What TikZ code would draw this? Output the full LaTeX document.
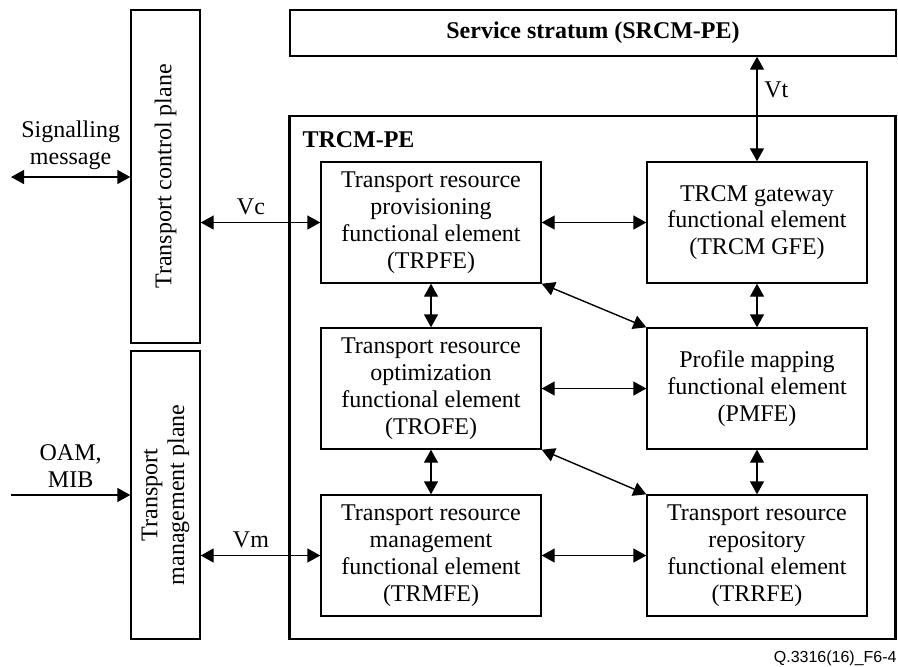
\documentclass[tikz,border=0pt]{standalone}
\usepackage{fontspec}
\setmainfont{Liberation Serif}
\newfontfamily\captionFont{Liberation Sans}
\usetikzlibrary{arrows.meta}
\newcommand{\elementFont}{\fontsize{12}{13.4}\selectfont}
\tikzstyle{diagram} = [x = 0.5pt, y = -0.5pt]
\tikzstyle{boxStyle} = [draw, line width = 0.7pt, inner sep = 0pt]
\tikzstyle{elementStyle} = [boxStyle, minimum width = 110pt, minimum height = 60.5pt, align = center, font = \elementFont]
\tikzstyle{planeStyle} = [boxStyle, minimum width = 34.5pt]
\tikzstyle{peStyle} = [draw, line width = 1.4pt, minimum width = 303pt, minimum height = 261.5pt]
\tikzstyle{labelText} = [font = \elementFont, align = center]
\tikzstyle{interfaceLink} = [line width = 0.7pt, {Triangle[length = 6.5pt, width = 7pt]}-{Triangle[length = 6.5pt, width = 7pt]}]
\tikzstyle{inputLink} = [line width = 0.7pt, -{Triangle[length = 6.5pt, width = 7pt]}]
\newcommand{\functionalElement}[4]{\node [elementStyle] (#1) at (#2, #3) {#4};}

\begin{document}
\begin{tikzpicture}[diagram]
        \useasboundingbox (0, 0) rectangle (898, 666);

        \node [boxStyle, minimum width = 303pt, minimum height = 23pt, font = \elementFont\bfseries] (serviceStratum) at (593, 33) {Service stratum (SRCM-PE)};
        \node [peStyle] (trcmPe) at (592.5, 377.5) {};
        \node [anchor = north west, inner sep = 0pt, font = \elementFont\bfseries] (trcmPeLabel) at ([shift = {(14, 17)}] trcmPe.north west) {TRCM-PE};

        \node [planeStyle, minimum height = 166.5pt] (controlPlane) at (165.5, 176.5) {};
        \node [labelText, rotate = 90] (controlPlaneText) at (controlPlane) {Transport control plane};
        \node [planeStyle, minimum height = 144pt] (managementPlane) at (165.5, 495) {};
        \node [labelText, rotate = 90] (managementPlaneText) at (managementPlane) {Transport\\management plane};

        \functionalElement{trpfe}{431}{222.5}{Transport resource\\provisioning\\functional element\\(TRPFE)}
        \functionalElement{trcmGfe}{757}{222.5}{TRCM gateway\\functional element\\(TRCM GFE)}
        \functionalElement{trofe}{431}{388.5}{Transport resource\\optimization\\functional element\\(TROFE)}
        \functionalElement{pmfe}{757}{388.5}{Profile mapping\\functional element\\(PMFE)}
        \functionalElement{trmfe}{431}{555.5}{Transport resource\\management\\functional element\\(TRMFE)}
        \functionalElement{trrfe}{757}{555.5}{Transport resource\\repository\\functional element\\(TRRFE)}

        \coordinate (signalEnd) at (11, 177);
        \coordinate (oamEnd) at (11, 495);
        \draw [interfaceLink] (signalEnd) -- (signalEnd -| controlPlane.west) node [labelText, midway, above] (signalLabel) {Signalling\\message};
        \draw [inputLink] (oamEnd) -- (managementPlane.west) node [labelText, midway, above] (oamLabel) {OAM,\\MIB};
        \draw [interfaceLink] (trpfe.west -| controlPlane.east) -- (trpfe.west) node [labelText, pos = .42, above] (vcLabel) {Vc};
        \draw [interfaceLink] (trmfe.west -| managementPlane.east) -- (trmfe.west) node [labelText, pos = .42, above] (vmLabel) {Vm};
        \draw [interfaceLink] (serviceStratum.south -| trcmGfe.north) -- (trcmGfe.north) node [labelText, pos = .32, right] (vtLabel) {Vt};

        \draw [interfaceLink] (trpfe) -- (trcmGfe);
        \draw [interfaceLink] (trofe) -- (pmfe);
        \draw [interfaceLink] (trmfe) -- (trrfe);
        \draw [interfaceLink] (trpfe) -- (trofe);
        \draw [interfaceLink] (trofe) -- (trmfe);
        \draw [interfaceLink] (trcmGfe) -- (pmfe);
        \draw [interfaceLink] (pmfe) -- (trrfe);
        \draw [interfaceLink] (trpfe.south east) -- (pmfe.north west);
        \draw [interfaceLink] (trofe.south east) -- (trrfe.north west);

        \node [anchor = base east, inner sep = 0pt, font = \captionFont\fontsize{8}{9}\selectfont] (figureId) at (897, 662) {Q.3316(16)\_F6-4};
      \end{tikzpicture}
\end{document}
